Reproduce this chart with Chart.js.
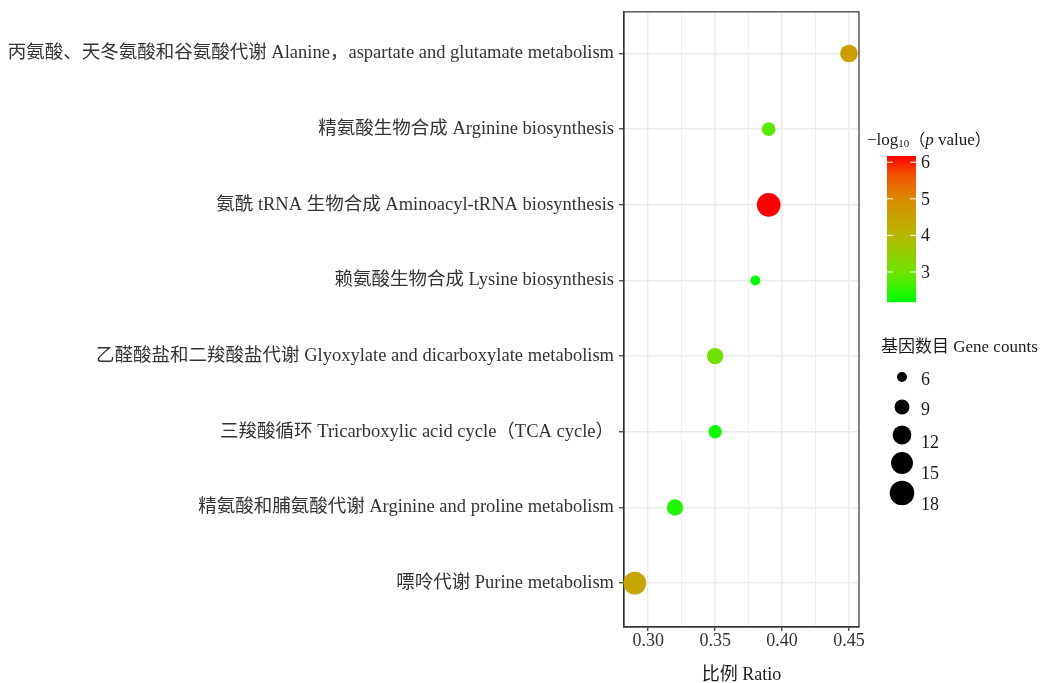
<!DOCTYPE html>
<html>
<head>
<meta charset="utf-8">
<script src="https://cdn.jsdelivr.net/npm/chart.js@4.4.1/dist/chart.umd.min.js"></script>
<style>
  html, body { margin: 0; padding: 0; background: #fff; }
</style>
</head>
<body>
<canvas id="myChart" width="1054" height="683"></canvas>
<script>
// data
const pathways = [
  '丙氨酸、天冬氨酸和谷氨酸代谢 Alanine，aspartate and glutamate metabolism',
  '精氨酸生物合成 Arginine biosynthesis',
  '氨酰 tRNA 生物合成 Aminoacyl-tRNA biosynthesis',
  '赖氨酸生物合成 Lysine biosynthesis',
  '乙醛酸盐和二羧酸盐代谢 Glyoxylate and dicarboxylate metabolism',
  '三羧酸循环 Tricarboxylic acid cycle（TCA cycle）',
  '精氨酸和脯氨酸代谢 Arginine and proline metabolism',
  '嘌呤代谢 Purine metabolism'
]
const ratios = [0.45, 0.39, 0.39, 0.38, 0.35, 0.35, 0.32, 0.29]
const geneCounts = [11, 8, 17, 6, 10, 8, 10, 16]
const negLogP = [4.6, 2.8, 6.17, 2.18, 3.05, 2.32, 2.42, 4.4]
const colorTicks = [3, 4, 5, 6]
const sizeBreaks = [6, 9, 12, 15, 18]

const FONT = '"Liberation Serif", "Noto Sans CJK SC", serif'
const CJK = '"Noto Sans CJK SC", "Liberation Serif", serif'

// size scale (area linear in count)
function radiusFor(c) { return Math.sqrt(Math.max(1, 10.5 * c - 38)) }

// colour scale: green -> red, stops sampled from the reference colour bar
const gradStops = [
  [0, [0, 255, 0]],
  [0.2, [110, 228, 0]],
  [0.455, [182, 184, 0]],
  [0.7, [218, 140, 0]],
  [0.88, [244, 78, 0]],
  [1, [255, 0, 0]]
]
const pMin = Math.min(...negLogP)
const pMax = Math.max(...negLogP)
function colorFor(v) {
  const t = Math.max(0, Math.min(1, (v - pMin) / (pMax - pMin)))
  let i = 0
  while (i < gradStops.length - 2 && t > gradStops[i + 1][0]) i++
  const a = gradStops[i], b = gradStops[i + 1]
  const f = (t - a[0]) / (b[0] - a[0])
  const c = [0, 1, 2].map(k => Math.round(a[1][k] + (b[1][k] - a[1][k]) * f))
  return 'rgb(' + c.join(',') + ')'
}

function isMajor(v) { return Math.abs(v * 20 - Math.round(v * 20)) < 1e-6 }

// panel border + side legends
const sidePlugin = {
  id: 'sidePlugin',
  beforeDatasetsDraw(chart) {
    const a = chart.chartArea, c = chart.ctx
    c.save()
    c.strokeStyle = '#333333'
    c.lineWidth = 1.2
    c.strokeRect(a.left, a.top, a.right - a.left, a.bottom - a.top)
    c.restore()
  },
  afterDraw(chart) {
    const c = chart.ctx
    c.save()
    c.fillStyle = '#1a1a1a'
    c.textAlign = 'left'
    c.textBaseline = 'alphabetic'

    // colour legend title
    let x = 867
    const y = 145
    const seg = (txt, font, dy) => {
      c.font = font
      c.fillText(txt, x, y + (dy || 0))
      x += c.measureText(txt).width
    }
    seg('−log', '17px ' + FONT)
    seg('10', '11px ' + FONT, 2)
    seg('（', '16px ' + CJK)
    seg('p', 'italic 17px ' + FONT)
    seg(' value', '17px ' + FONT)
    seg('）', '16px ' + CJK)

    // colour bar
    const bx = 887, bw = 29, top = 156, bottom = 302
    for (let py = top; py < bottom; py++) {
      const v = pMin + (bottom - py - 0.5) / (bottom - top) * (pMax - pMin)
      c.fillStyle = colorFor(v)
      c.fillRect(bx, py, bw, 1.2)
    }
    c.strokeStyle = '#ffffff'
    c.lineWidth = 1
    c.font = '18px ' + FONT
    c.textBaseline = 'middle'
    colorTicks.forEach(v => {
      const ty = bottom - (v - pMin) / (pMax - pMin) * (bottom - top)
      c.beginPath()
      c.moveTo(bx, ty); c.lineTo(bx + 6, ty)
      c.moveTo(bx + bw - 6, ty); c.lineTo(bx + bw, ty)
      c.stroke()
      c.fillStyle = '#1a1a1a'
      c.fillText(String(v), 921, ty + 1)
    })

    // size legend
    c.font = '17px ' + FONT
    c.fillText('基因数目 Gene counts', 881, 348)
    const keyY = [377, 407, 435, 463, 493]
    const labY = [380, 410, 443, 474, 505]
    c.font = '18px ' + FONT
    sizeBreaks.forEach((s, i) => {
      c.fillStyle = '#000000'
      c.beginPath()
      c.arc(902, keyY[i], radiusFor(s), 0, Math.PI * 2)
      c.fill()
      c.fillStyle = '#1a1a1a'
      c.fillText(String(s), 921, labY[i])
    })
    c.restore()
  }
}

const ctx = document.getElementById('myChart')
const config = {
  type: 'scatter',
  data: {
    datasets: [{
      data: pathways.map((p, i) => ({ x: ratios[i], y: i })),
      pointRadius: c => radiusFor(geneCounts[c.dataIndex]),
      pointHoverRadius: c => radiusFor(geneCounts[c.dataIndex]),
      pointBackgroundColor: c => colorFor(negLogP[c.dataIndex]),
      pointBorderWidth: 0,
      clip: false
    }]
  },
  options: {
    responsive: false,
    animation: false,
    layout: { padding: { left: 0, right: 195, top: 0, bottom: 0 } },
    scales: {
      x: {
        type: 'linear',
        min: 0.2819,
        max: 0.4575,
        afterBuildTicks: scale => {
          const t = []
          for (let v = 0.3; v <= 0.4575; v += 0.025) t.push({ value: Math.round(v * 1000) / 1000 })
          scale.ticks = t
        },
        afterFit: scale => { scale.height = 56 },
        ticks: {
          autoSkip: false,
          maxRotation: 0,
          padding: -1,
          color: '#333333',
          font: { family: FONT, size: 18 },
          callback: v => isMajor(v) ? v.toFixed(2) : ''
        },
        grid: {
          color: '#ebebeb',
          lineWidth: c => (c.tick && isMajor(c.tick.value)) ? 1.5 : 0.8,
          tickColor: c => (c.tick && isMajor(c.tick.value)) ? '#333333' : 'rgba(0,0,0,0)',
          tickWidth: 1.2,
          tickLength: 4
        },
        border: { display: true, color: '#333333', width: 1.2 },
        title: {
          display: true,
          text: '比例 Ratio',
          color: '#1a1a1a',
          font: { family: FONT, size: 18 },
          padding: { top: 0, bottom: -3 }
        }
      },
      y: {
        type: 'linear',
        min: -0.55,
        max: 7.58,
        reverse: true,
        afterBuildTicks: scale => { scale.ticks = pathways.map((p, i) => ({ value: i })) },
        afterFit: scale => {
          scale.width = 624
          scale.paddingTop = 0
          scale.paddingBottom = 0
        },
        ticks: {
          autoSkip: false,
          padding: 5,
          color: '#333333',
          font: { family: FONT, size: 18.5 },
          callback: v => pathways[v]
        },
        grid: {
          color: '#ebebeb',
          lineWidth: 1.5,
          tickColor: '#333333',
          tickWidth: 1.2,
          tickLength: 5
        },
        border: { display: true, color: '#333333', width: 1.2 }
      }
    },
    plugins: {
      legend: { display: false },
      tooltip: { enabled: false }
    }
  },
  plugins: [sidePlugin]
}
const scatterChart = new Chart(ctx, config)
</script>
</body>
</html>
